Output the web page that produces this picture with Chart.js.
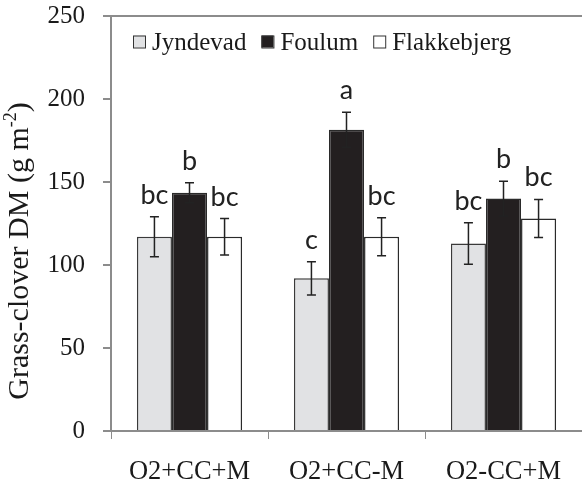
<!DOCTYPE html>
<html>
<head>
<meta charset="utf-8">
<script src="https://cdn.jsdelivr.net/npm/chart.js@4.4.0/dist/chart.umd.min.js"></script>
<style>
html,body{margin:0;padding:0;background:#fff;}
#wrap{width:582px;height:488px;position:relative;}
</style>
</head>
<body>
<div id="wrap"><canvas id="c" width="582" height="488"></canvas></div>
<script>
const categories = ['O2+CC+M', 'O2+CC-M', 'O2-CC+M'];
const seriesNames = ['Jyndevad', 'Foulum', 'Flakkebjerg'];
const jyndevad = [117, 92, 113];
const foulum = [143.5, 181.5, 140];
const flakkebjerg = [117, 117, 128];
const jyndevadErr = [12, 10, 12.5];
const foulumErr = [6, 10.5, 10.5];
const flakkebjergErr = [11, 11.5, 11.5];
const jyndevadLetters = ['bc', 'c', 'bc'];
const foulumLetters = ['b', 'a', 'b'];
const flakkebjergLetters = ['bc', 'bc', 'bc'];
const yTicks = [0, 50, 100, 150, 200, 250];
const yTitle = 'Grass-clover DM (g m';
const yTitleSup = '-2';
const yTitleEnd = ')';

const serif = '"Liberation Serif", "Times New Roman", serif';
const sans = 'Lato, "Open Sans", sans-serif';
const fills = ['#e1e2e4', '#231f20', '#ffffff'];
const borders = ['#3a3a3a', '#2a2a2a', '#2a2a2a'];
const errs = [jyndevadErr, foulumErr, flakkebjergErr];
const letters = [jyndevadLetters, foulumLetters, flakkebjergLetters];

const extras = {
  id: 'extras',
  afterDatasetsDraw(chart) {
    const ctx = chart.ctx;
    const y = chart.scales.y;
    ctx.save();
    chart.data.datasets.forEach((ds, di) => {
      const meta = chart.getDatasetMeta(di);
      meta.data.forEach((bar, i) => {
        const v = ds.data[i], e = errs[di][i];
        const x = bar.x;
        const yt = y.getPixelForValue(v + e), yb = y.getPixelForValue(v - e);
        ctx.strokeStyle = '#222';
        ctx.lineWidth = 1.5;
        ctx.beginPath();
        ctx.moveTo(x, yt); ctx.lineTo(x, yb);
        ctx.moveTo(x - 4.5, yt); ctx.lineTo(x + 4.5, yt);
        ctx.moveTo(x - 4.5, yb); ctx.lineTo(x + 4.5, yb);
        ctx.stroke();
        ctx.fillStyle = '#222';
        ctx.font = '27px ' + sans;
        ctx.textAlign = 'center';
        ctx.textBaseline = 'alphabetic';
        ctx.fillText(letters[di][i], x, yt - 13);
      });
    });
    // legend
    const ca = chart.chartArea;
    let lx = ca.left + 22;
    const ly = 42;
    ctx.font = '25px ' + serif;
    ctx.textBaseline = 'middle';
    ctx.textAlign = 'left';
    chart.data.datasets.forEach((ds, di) => {
      ctx.fillStyle = fills[di];
      ctx.fillRect(lx, ly - 6.5, 12, 12);
      ctx.strokeStyle = '#333';
      ctx.lineWidth = 1;
      ctx.strokeRect(lx + 0.5, ly - 6, 12, 12);
      ctx.fillStyle = '#1a1a1a';
      ctx.fillText(ds.label, lx + 19, ly + 1);
      lx += 19 + ctx.measureText(ds.label).width + 15;
    });
    // y title
    ctx.save();
    ctx.translate(18, 251);
    ctx.rotate(-Math.PI / 2);
    ctx.font = '30px ' + serif;
    const w1 = ctx.measureText(yTitle).width;
    ctx.font = '18px ' + serif;
    const w2 = ctx.measureText(yTitleSup).width;
    ctx.font = '30px ' + serif;
    const w3 = ctx.measureText(yTitleEnd).width;
    const total = w1 + w2 + w3;
    let tx = -total / 2;
    ctx.textBaseline = 'alphabetic';
    ctx.fillStyle = '#1a1a1a';
    ctx.fillText(yTitle, tx, 10);
    tx += w1;
    ctx.font = '18px ' + serif;
    ctx.fillText(yTitleSup, tx, -2);
    tx += w2;
    ctx.font = '30px ' + serif;
    ctx.fillText(yTitleEnd, tx, 10);
    ctx.restore();
    ctx.restore();
  }
};

new Chart(document.getElementById('c'), {
  type: 'bar',
  data: {
    labels: categories,
    datasets: [
      { label: seriesNames[0], data: jyndevad },
      { label: seriesNames[1], data: foulum },
      { label: seriesNames[2], data: flakkebjerg }
    ].map((d, i) => Object.assign(d, {
      backgroundColor: fills[i],
      borderColor: borders[i],
      borderWidth: 1.5,
      barPercentage: 1,
      categoryPercentage: 0.67
    }))
  },
  options: {
    responsive: false,
    animation: false,
    layout: { padding: { top: 16, right: 0, bottom: 0, left: 0 } },
    plugins: { legend: { display: false }, tooltip: { enabled: false } },
    scales: {
      x: {
        grid: { display: true, drawOnChartArea: false, drawTicks: true, tickLength: 8, tickColor: '#8c8c8c', offset: true },
        border: { color: '#8c8c8c', width: 2 },
        ticks: { font: { family: serif, size: 26.5 }, color: '#1a1a1a', padding: 17, maxRotation: 0 },
        afterFit: s => { s.height = 57; }
      },
      y: {
        min: 0, max: 250,
        afterBuildTicks: s => { s.ticks = yTicks.map(v => ({ value: v })); },
        grid: {
          color: c => (c.tick && c.tick.value === 250) ? '#8c8c8c' : 'rgba(0,0,0,0)',
          lineWidth: 2,
          drawTicks: true, tickLength: 8, tickColor: '#8c8c8c'
        },
        border: { color: '#8c8c8c', width: 2 },
        ticks: { font: { family: serif, size: 25 }, color: '#1a1a1a', padding: 18 },
        afterFit: s => { s.width = 111; s.paddingTop = 0; }
      }
    }
  },
  plugins: [extras]
});
</script>
</body>
</html>
